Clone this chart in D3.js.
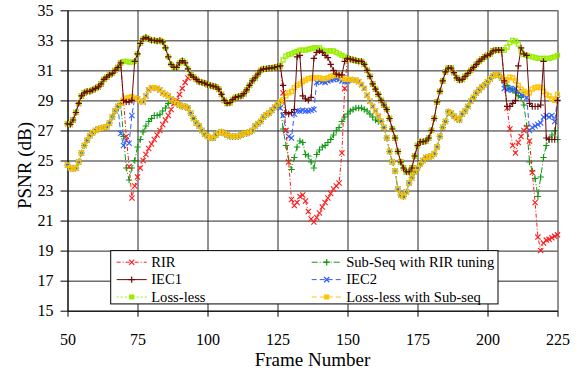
<!DOCTYPE html>
<html>
<head>
<meta charset="utf-8">
<script src="https://cdn.jsdelivr.net/npm/d3@7"></script>
<style>
  html, body { margin: 0; padding: 0; background: #fff; }
  svg { display: block; }
</style>
</head>
<body>
<svg id="chart"></svg>
<script>
// frame numbers on the x axis
const frames = d3.range(50, 226);
const xTicks = [50, 75, 100, 125, 150, 175, 200, 225];
const yTicks = [15, 17, 19, 21, 23, 25, 27, 29, 31, 33, 35];

// PSNR (dB) per frame, 50..225
const lossLess = [
  27.45, 27.4, 27.7, 28.2, 28.8, 29.3, 29.5, 29.6, 29.6, 29.7,
  29.8, 29.9, 30.1, 30.4, 30.55, 30.7, 30.8, 31.0, 31.2, 31.5,
  31.6, 31.6, 31.55, 31.55, 31.6, 32.1, 32.8, 33.1, 33.2, 33.1,
  33.0, 33.0, 32.95, 33.0, 32.9, 32.5, 31.9, 31.4, 31.2, 31.2,
  31.5, 31.65, 31.5, 31.1, 30.7, 30.55, 30.4, 30.25, 30.2, 30.15,
  30.05, 30.0, 29.95, 29.9, 29.75, 29.4, 29.0, 28.8, 28.85, 29.05,
  29.2, 29.25, 29.3, 29.45, 29.7, 30.0, 30.3, 30.5, 30.75, 31.0,
  31.1, 31.1, 31.15, 31.15, 31.2, 31.25, 31.3, 31.7, 31.95, 32.05,
  32.1, 32.2, 32.25, 32.35, 32.35, 32.35, 32.4, 32.45, 32.5, 32.5,
  32.5, 32.35, 32.25, 32.3, 32.3, 32.3, 32.2, 32.1, 32.0, 31.9,
  31.8, 31.75, 31.7, 31.65, 31.6, 31.6, 31.4, 31.0, 30.6, 30.1,
  29.75, 29.4, 29.0, 28.7, 28.4, 27.8, 27.1, 26.5, 25.6, 24.9,
  24.5, 24.25, 24.25, 24.5, 25.3, 26.0, 26.25, 26.25, 26.3, 26.5,
  27.0, 27.8, 28.9, 29.6, 30.3, 30.9, 31.15, 31.15, 30.85, 30.5,
  30.35, 30.4, 30.6, 30.8, 31.0, 31.2, 31.4, 31.6, 31.75, 31.9,
  32.0, 32.1, 32.3, 32.35, 32.35, 32.35, 32.35, 32.55, 32.85, 33.0,
  32.95, 32.75, 32.3, 32.05, 32.0, 31.95, 31.9, 31.85, 31.8, 31.8,
  31.8, 31.8, 31.8, 31.85, 31.9, 32.0
];

const iec1 = [
  27.45, 27.4, 27.7, 28.2, 28.8, 29.3, 29.5, 29.6, 29.6, 29.7,
  29.8, 29.9, 30.1, 30.4, 30.55, 30.7, 30.8, 31.0, 31.2, 31.5,
  29.0, 28.9, 28.9, 29.0, 31.6, 32.1, 32.8, 33.1, 33.2, 33.1,
  33.0, 33.0, 32.95, 33.0, 32.9, 32.5, 31.9, 31.4, 31.2, 31.2,
  31.5, 31.65, 31.5, 31.1, 30.7, 30.55, 30.4, 30.25, 30.2, 30.15,
  30.05, 30.0, 29.95, 29.9, 29.75, 29.4, 29.0, 28.8, 28.85, 29.05,
  29.2, 29.25, 29.3, 29.45, 29.7, 30.0, 30.3, 30.5, 30.75, 31.0,
  31.1, 31.1, 31.15, 31.15, 31.2, 31.25, 31.3, 30.0, 28.2, 28.1,
  28.2, 28.4, 31.9, 32.0, 29.3, 29.1, 29.0, 29.2, 31.8, 32.2,
  32.3, 32.2, 32.0, 31.85, 31.4, 31.0, 30.75, 30.7, 30.7, 31.6,
  31.8, 31.75, 31.7, 31.65, 31.6, 31.6, 31.4, 31.0, 30.6, 30.1,
  29.75, 29.4, 29.0, 28.7, 28.4, 27.8, 27.1, 26.5, 25.6, 24.9,
  24.5, 24.25, 24.25, 24.5, 25.3, 26.0, 26.25, 26.25, 26.3, 26.5,
  27.0, 27.8, 28.9, 29.6, 30.3, 30.9, 31.15, 31.15, 30.85, 30.5,
  30.35, 30.4, 30.6, 30.8, 31.0, 31.2, 31.4, 31.6, 31.75, 31.9,
  32.0, 32.1, 32.3, 32.35, 32.35, 32.35, 30.3, 28.6, 28.6, 28.8,
  29.0, 31.3, 32.5, 32.1, 32.0, 28.8, 28.6, 28.6, 28.6, 28.7,
  31.6, 26.5, 26.4, 26.4, 26.4, 29.0
];

const rir = [
  27.45, 27.4, 27.7, 28.2, 28.8, 29.3, 29.5, 29.6, 29.6, 29.7,
  29.8, 29.9, 30.1, 30.4, 30.55, 30.7, 30.8, 31.0, 31.2, 31.5,
  29.0, 26.6, 24.6, 22.5, 23.3, 23.9, 24.5, 25.0, 25.4, 25.8,
  26.1, 26.4, 26.7, 27.0, 27.4, 27.7, 28.0, 28.4, 28.8, 29.0,
  29.4, 29.8, 30.2, 30.5, 30.7, 30.55, 30.4, 30.25, 30.2, 30.15,
  30.05, 30.0, 29.95, 29.9, 29.75, 29.4, 29.0, 28.8, 28.85, 29.05,
  29.2, 29.25, 29.3, 29.45, 29.7, 30.0, 30.3, 30.5, 30.75, 31.0,
  31.1, 31.1, 31.15, 31.15, 31.2, 31.25, 31.3, 29.5, 27.0, 24.9,
  22.4, 22.0, 22.2, 22.6, 22.7, 22.3, 21.6, 21.1, 20.9, 21.2,
  21.5, 21.9, 22.2, 22.5, 22.8, 23.1, 23.3, 23.5, 25.5, 29.8,
  31.8, 31.75, 31.7, 31.65, 31.6, 31.6, 31.4, 31.0, 30.6, 30.1,
  29.75, 29.4, 29.0, 28.7, 28.4, 27.8, 27.1, 26.5, 25.6, 24.9,
  24.5, 24.25, 24.25, 24.5, 25.3, 26.0, 26.25, 26.25, 26.3, 26.5,
  27.0, 27.8, 28.9, 29.6, 30.3, 30.9, 31.15, 31.15, 30.85, 30.5,
  30.35, 30.4, 30.6, 30.8, 31.0, 31.2, 31.4, 31.6, 31.75, 31.9,
  32.0, 32.1, 32.3, 32.35, 32.35, 32.35, 30.3, 28.5, 27.1, 26.0,
  25.5, 26.2, 26.6, 27.0, 27.2, 26.3, 24.2, 22.2, 19.9, 19.0,
  19.5, 19.7, 19.75, 19.85, 19.95, 20.05
];

const lossLessSub = [
  24.7, 24.5, 24.45, 24.5, 24.9, 25.5, 26.0, 26.35, 26.65, 26.85,
  27.0, 27.1, 27.15, 27.2, 27.25, 27.5, 27.9, 28.3, 28.6, 28.8,
  29.0, 29.15, 29.2, 29.25, 29.15, 29.1, 28.95, 28.9, 29.3, 29.7,
  29.85, 29.85, 29.8, 29.7, 29.5, 29.4, 29.3, 29.1, 28.95, 28.8,
  28.7, 28.6, 28.6, 28.5, 28.15, 27.8, 27.5, 27.3, 27.0, 26.75,
  26.6, 26.5, 26.5, 26.7, 26.85, 26.9, 26.8, 26.7, 26.6, 26.6,
  26.6, 26.6, 26.7, 26.8, 26.8, 26.9, 27.0, 27.3, 27.45, 27.6,
  27.9, 28.05, 28.15, 28.35, 28.55, 28.75, 28.9, 29.05, 29.3, 29.5,
  29.6, 29.85, 30.0, 30.1, 30.25, 30.35, 30.45, 30.5, 30.5, 30.5,
  30.5, 30.45, 30.45, 30.5, 30.6, 30.65, 30.7, 30.65, 30.5, 30.4,
  30.4, 30.4, 30.35, 30.35, 30.25, 30.05, 29.8, 29.35, 28.95, 28.6,
  28.3, 27.95, 27.6, 27.2, 26.5, 25.6, 24.9, 24.3, 23.1, 22.7,
  22.6, 22.9, 23.5, 23.85, 24.25, 24.5, 24.75, 25.0, 25.2, 25.25,
  25.3, 25.45, 25.9, 26.6, 27.2, 27.6, 28.25, 28.15, 27.95, 27.8,
  27.7, 28.1, 28.3, 28.6, 28.95, 29.2, 29.5, 29.7, 29.9, 30.05,
  30.25, 30.45, 30.65, 30.7, 30.7, 30.5, 30.4, 30.35, 30.55, 30.5,
  30.3, 30.0, 29.75, 29.6, 29.5, 29.5, 29.75, 29.85, 29.9, 29.85,
  29.6, 29.4, 29.3, 29.1, 29.0, 29.4
];

const iec2 = [
  24.7, 24.5, 24.45, 24.5, 24.9, 25.5, 26.0, 26.35, 26.65, 26.85,
  27.0, 27.1, 27.15, 27.2, 27.25, 27.5, 27.9, 28.3, 28.6, 26.8,
  26.0, 26.35, 26.15, 28.0, 29.15, 29.1, 28.95, 28.9, 29.3, 29.7,
  29.85, 29.85, 29.8, 29.7, 29.5, 29.4, 29.3, 29.1, 28.95, 28.8,
  28.7, 28.6, 28.6, 28.5, 28.15, 27.8, 27.5, 27.3, 27.0, 26.75,
  26.6, 26.5, 26.5, 26.7, 26.85, 26.9, 26.8, 26.7, 26.6, 26.6,
  26.6, 26.6, 26.7, 26.8, 26.8, 26.9, 27.0, 27.3, 27.45, 27.6,
  27.9, 28.05, 28.15, 28.35, 28.55, 28.75, 28.5, 28.0, 27.0, 26.6,
  26.5, 28.1, 28.3, 28.3, 28.35, 28.3, 28.3, 28.35, 28.4, 30.2,
  30.3, 30.25, 30.2, 30.3, 30.35, 30.4, 30.45, 30.4, 30.3, 30.25,
  30.3, 30.4, 30.35, 30.35, 30.25, 30.05, 29.8, 29.35, 28.95, 28.6,
  28.3, 27.95, 27.6, 27.2, 26.5, 25.6, 24.9, 24.3, 23.1, 22.7,
  22.6, 22.9, 23.5, 23.85, 24.25, 24.5, 24.75, 25.0, 25.2, 25.25,
  25.3, 25.45, 25.9, 26.6, 27.2, 27.6, 28.25, 28.15, 27.95, 27.8,
  27.7, 28.1, 28.3, 28.6, 28.95, 29.2, 29.5, 29.7, 29.9, 30.05,
  30.25, 30.45, 30.65, 30.7, 30.7, 30.5, 29.8, 29.7, 29.8, 29.7,
  29.8, 29.6, 29.4, 29.35, 29.2, 27.0, 27.2, 27.3, 27.4, 27.5,
  27.9, 28.0, 27.9, 28.0, 27.6, 29.1
];

const subSeq = [
  24.7, 24.5, 24.45, 24.5, 24.9, 25.5, 26.0, 26.35, 26.65, 26.85,
  27.0, 27.1, 27.15, 27.2, 27.25, 27.5, 27.9, 28.3, 28.6, 28.8,
  26.6, 24.5, 23.7, 24.5, 25.0, 25.9, 26.4, 26.9, 27.3, 27.6,
  27.8, 28.0, 28.0, 28.05, 28.3, 28.5, 28.8, 29.0, 28.95, 28.8,
  28.7, 28.6, 28.6, 28.5, 28.15, 27.8, 27.5, 27.3, 27.0, 26.75,
  26.6, 26.5, 26.5, 26.7, 26.85, 26.9, 26.8, 26.7, 26.6, 26.6,
  26.6, 26.6, 26.7, 26.8, 26.8, 26.9, 27.0, 27.3, 27.45, 27.6,
  27.9, 28.05, 28.15, 28.35, 28.55, 28.75, 28.9, 27.1, 26.0, 25.0,
  24.4, 25.2, 25.9, 26.3, 26.2, 25.4, 25.3, 24.9, 24.5, 25.4,
  25.7, 25.9, 26.0, 26.2, 26.4, 26.7, 27.0, 27.2, 27.6, 27.9,
  28.1, 28.3, 28.4, 28.5, 28.5, 28.5, 28.4, 28.3, 28.1, 27.9,
  27.7, 27.6, 27.6, 27.2, 26.5, 25.6, 24.9, 24.3, 23.1, 22.7,
  22.6, 22.9, 23.5, 23.85, 24.25, 24.5, 24.75, 25.0, 25.2, 25.25,
  25.3, 25.45, 25.9, 26.6, 27.2, 27.6, 28.25, 28.15, 27.95, 27.8,
  27.7, 28.1, 28.3, 28.6, 28.95, 29.2, 29.5, 29.7, 29.9, 30.05,
  30.25, 30.45, 30.65, 30.7, 30.7, 30.5, 30.2, 30.0, 29.8, 29.7,
  29.5, 29.3, 29.2, 28.7, 27.3, 24.9, 24.3, 23.8, 22.6, 23.9,
  25.2, 26.0, 26.4, 26.7, 27.0, 26.4
];

const FONT = '"Liberation Serif", "Times New Roman", Times, "DejaVu Serif", serif';

const WIDTH = 587;
const HEIGHT = 370;
const margin = {top: 10.3, right: 29.5, bottom: 59.3, left: 67.5},
  width = WIDTH - margin.left - margin.right,
  height = HEIGHT - margin.top - margin.bottom;

const svg = d3.select('#chart')
  .attr('width', WIDTH)
  .attr('height', HEIGHT)
  .append('g')
  .attr('transform', `translate(${margin.left},${margin.top})`);

const x = d3.scaleLinear().domain([50, 225]).range([0, width]);
const y = d3.scaleLinear().domain([15, 35]).range([height, 0]);

// gridlines
const gridY = svg.append('g')
  .call(d3.axisLeft(y).tickValues(yTicks).tickSize(-width).tickFormat(''));
const gridX = svg.append('g')
  .attr('transform', `translate(0,${height})`)
  .call(d3.axisBottom(x).tickValues(xTicks).tickSize(-height).tickFormat(''));
[gridY, gridX].forEach(g => {
  g.select('.domain').remove();
  g.selectAll('line').attr('stroke', '#262626').attr('stroke-width', 1);
});

// axes
const yAxis = svg.append('g')
  .call(d3.axisLeft(y).tickValues(yTicks).tickSizeInner(7).tickSizeOuter(0).tickPadding(7));
const xAxis = svg.append('g')
  .attr('transform', `translate(0,${height})`)
  .call(d3.axisBottom(x).tickValues(xTicks).tickSizeInner(6).tickSizeOuter(0).tickPadding(17));
[yAxis, xAxis].forEach(g => {
  g.attr('font-family', null).attr('font-size', null);
  g.selectAll('text')
    .style('font-family', FONT)
    .style('font-size', '16px')
    .attr('fill', '#000');
});

svg.append('text')
  .attr('transform', `translate(${-37},${height / 2 + 5}) rotate(-90)`)
  .style('text-anchor', 'middle')
  .style('font-family', FONT)
  .style('font-size', '19px')
  .text('PSNR (dB)');

svg.append('text')
  .attr('x', width / 2)
  .attr('y', height + 55.5)
  .style('text-anchor', 'middle')
  .style('font-family', FONT)
  .style('font-size', '19px')
  .text('Frame Number');

const markers = {
  cross: 'M-2.6,-2.6L2.6,2.6M-2.6,2.6L2.6,-2.6',
  plus: 'M-3.2,0L3.2,0M0,-3.2L0,3.2',
  square: 'M-2,-2H2V2H-2Z'
};

// drawn bottom to top
const series = [
  {name: 'Sub-Seq with RIR tuning', values: subSeq, color: '#119911', dash: '6,2,1,2', marker: 'plus'},
  {name: 'IEC2', values: iec2, color: '#2f5cff', dash: '5,3', marker: 'cross'},
  {name: 'RIR', values: rir, color: '#ff1a1a', dash: '4,2,1,2', marker: 'cross'},
  {name: 'Loss-less', values: lossLess, color: '#99ee00', dash: '2,2', marker: 'square'},
  {name: 'Loss-less with Sub-seq', values: lossLessSub, color: '#ffc400', dash: '5,3', marker: 'square'},
  {name: 'IEC1', values: iec1, color: '#6b0a0a', dash: null, marker: 'plus'}
];

const line = d3.line()
  .x((d, i) => x(frames[i]))
  .y(d => y(d));

series.forEach(s => {
  const g = svg.append('g');
  g.append('path')
    .datum(s.values)
    .attr('fill', 'none')
    .attr('stroke', s.color)
    .attr('stroke-width', 1)
    .attr('stroke-dasharray', s.dash)
    .attr('d', line);
  g.selectAll('path.mk')
    .data(s.values)
    .join('path')
    .attr('class', 'mk')
    .attr('transform', (d, i) => `translate(${x(frames[i])},${y(d)})`)
    .attr('d', markers[s.marker])
    .attr('fill', 'none')
    .attr('stroke', s.color)
    .attr('stroke-width', s.marker === 'square' ? 1.3 : 1.1);
});

// legend
const legendOrder = [
  ['RIR', 'IEC1', 'Loss-less'],
  ['Sub-Seq with RIR tuning', 'IEC2', 'Loss-less with Sub-seq']
];
const legend = svg.append('g')
  .attr('transform', `translate(${110.7 - margin.left},${y(19)})`);
legend.append('rect')
  .attr('width', 387.3)
  .attr('height', 53.3)
  .attr('fill', '#fff')
  .attr('stroke', '#000')
  .attr('stroke-width', 1);

legendOrder.forEach((col, ci) => {
  col.forEach((name, ri) => {
    const s = series.find(d => d.name === name);
    const item = legend.append('g')
      .attr('transform', `translate(${ci === 0 ? 6 : 201},${11.6 + ri * 17.4})`);
    item.append('line')
      .attr('x1', 0).attr('x2', 30)
      .attr('stroke', s.color)
      .attr('stroke-width', 1)
      .attr('stroke-dasharray', s.dash);
    item.append('path')
      .attr('transform', 'translate(15,0)')
      .attr('d', markers[s.marker])
      .attr('fill', s.marker === 'square' ? s.color : 'none')
      .attr('stroke', s.color)
      .attr('stroke-width', 1.2);
    item.append('text')
      .attr('x', 34.5)
      .attr('y', 4.8)
      .style('font-family', FONT)
      .style('font-size', '14.6px')
      .text(name);
  });
});
</script>
</body>
</html>
